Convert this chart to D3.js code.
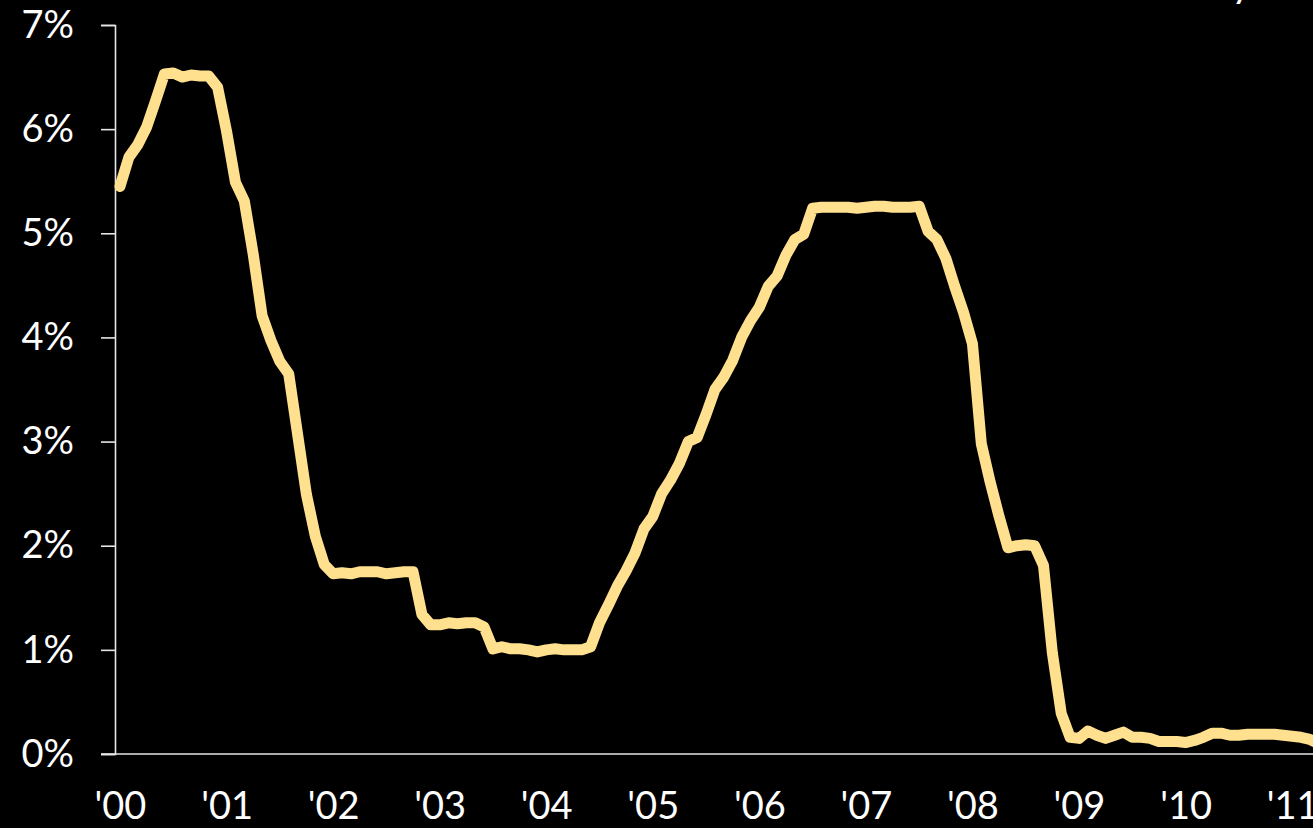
<!DOCTYPE html>
<html>
<head>
<meta charset="utf-8">
<script src="https://cdn.jsdelivr.net/npm/d3@7"></script>
<style>
  html, body { margin: 0; padding: 0; background: #000; overflow: hidden; }
  svg { display: block; }
</style>
</head>
<body>
<svg id="chart" width="1313" height="828"></svg>
<script>
// Monthly rate (%) starting Jan 2000
const startYear = 2000;
const rates = [
  // 2000
  5.45, 5.73, 5.85, 6.02, 6.27, 6.53, 6.54, 6.50, 6.52, 6.51, 6.51, 6.40,
  // 2001
  5.98, 5.49, 5.31, 4.80, 4.21, 3.97, 3.77, 3.65, 3.07, 2.49, 2.09, 1.82,
  // 2002
  1.73, 1.74, 1.73, 1.75, 1.75, 1.75, 1.73, 1.74, 1.75, 1.75, 1.34, 1.24,
  // 2003
  1.24, 1.26, 1.25, 1.26, 1.26, 1.22, 1.01, 1.03, 1.01, 1.01, 1.00, 0.98,
  // 2004
  1.00, 1.01, 1.00, 1.00, 1.00, 1.03, 1.26, 1.43, 1.61, 1.76, 1.93, 2.16,
  // 2005
  2.28, 2.50, 2.63, 2.79, 3.00, 3.04, 3.26, 3.50, 3.62, 3.78, 4.00, 4.16,
  // 2006
  4.29, 4.49, 4.59, 4.79, 4.94, 4.99, 5.24, 5.25, 5.25, 5.25, 5.25, 5.24,
  // 2007
  5.25, 5.26, 5.26, 5.25, 5.25, 5.25, 5.26, 5.02, 4.94, 4.76, 4.49, 4.24,
  // 2008
  3.94, 2.98, 2.61, 2.28, 1.98, 2.00, 2.01, 2.00, 1.81, 0.97, 0.39, 0.16,
  // 2009
  0.15, 0.22, 0.18, 0.15, 0.18, 0.21, 0.16, 0.16, 0.15, 0.12, 0.12, 0.12,
  // 2010
  0.11, 0.13, 0.16, 0.20, 0.20, 0.18, 0.18, 0.19, 0.19, 0.19, 0.19, 0.18,
  // 2011
  0.17, 0.16, 0.14, 0.10
];
const yearLabels = ["'00","'01","'02","'03","'04","'05","'06","'07","'08","'09","'10","'11"];
const yTicks = [0, 1, 2, 3, 4, 5, 6, 7];
const titleText = "Federal Funds Rate Monthly";

const svg = d3.select("#chart");
const W = 1313, H = 828;
svg.append("rect").attr("width", W).attr("height", H).attr("fill", "#000");

const x = d3.scaleLinear().domain([0, 108]).range([120, 1079]);
const y = d3.scaleLinear().domain([0, 7]).range([754, 25]);
const font = "Lato, 'Open Sans', sans-serif";

// title sits above the visible area (only a descender shows)
svg.append("text")
  .attr("x", 1252).attr("y", -3)
  .attr("text-anchor", "end")
  .attr("fill", "#fff")
  .style("font-family", font).style("font-size", "40px")
  .text(titleText);

// Y axis
const yAxis = d3.axisLeft(y)
  .tickValues(yTicks)
  .tickFormat(d => d + "%")
  .tickSize(14)
  .tickPadding(27);
const gy = svg.append("g").attr("transform", "translate(115,0)").call(yAxis);
gy.select(".domain").attr("stroke", "#e6e6e6").attr("stroke-width", 1.6);
gy.selectAll(".tick line").attr("stroke", "#e6e6e6").attr("stroke-width", 1.6);
gy.selectAll(".tick text")
  .attr("fill", "#fff")
  .style("font-family", font)
  .style("font-size", "38px");

// X axis
const xAxis = d3.axisBottom(x)
  .tickValues(yearLabels.map((d, i) => i * 12))
  .tickFormat((d, i) => yearLabels[i])
  .tickSize(0)
  .tickPadding(38);
const gx = svg.append("g").attr("transform", "translate(0,754)").call(xAxis);
gx.select(".domain").remove();
gx.append("line")
  .attr("x1", 101).attr("x2", W)
  .attr("y1", 0).attr("y2", 0)
  .attr("stroke", "#e6e6e6").attr("stroke-width", 1.6);
gx.selectAll(".tick text")
  .attr("fill", "#fff")
  .style("font-family", font)
  .style("font-size", "38px");

// Line
const line = d3.line()
  .x((d, i) => x(i))
  .y(d => y(d));
svg.append("path")
  .datum(rates)
  .attr("fill", "none")
  .attr("stroke", "#ffe08e")
  .attr("stroke-width", 11)
  .attr("stroke-linejoin", "round")
  .attr("stroke-linecap", "round")
  .attr("d", line);
</script>
</body>
</html>
